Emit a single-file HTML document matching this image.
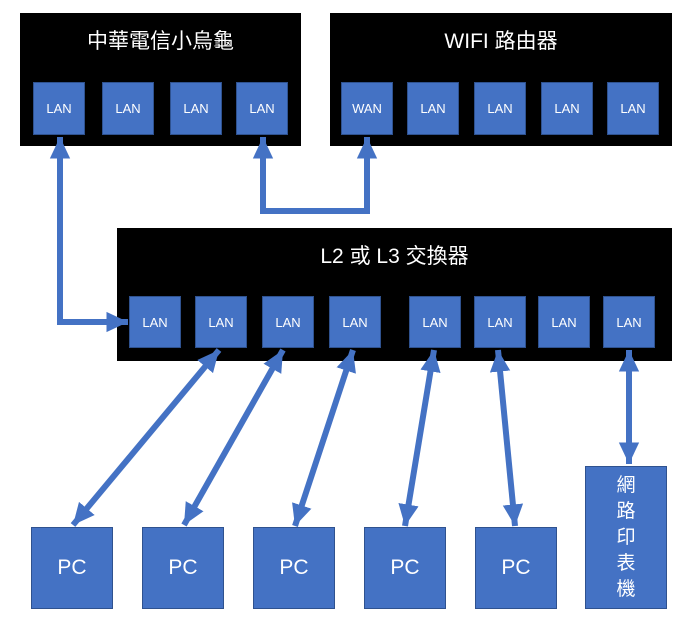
<!DOCTYPE html>
<html><head><meta charset="utf-8"><style>
body{margin:0;background:#fff;width:686px;height:629px;position:relative;overflow:hidden;font-family:"Liberation Sans","Noto Sans CJK TC",sans-serif}
.blk{position:absolute;background:#000}
.t{position:absolute;color:#fff;font-size:21px;text-align:center}
.p{position:absolute;background:#4472c4;border:1px solid #2f528f;box-sizing:border-box;color:#fff;font-size:13px;display:flex;align-items:center;justify-content:center}
.pc{font-size:21px}
svg{position:absolute;left:0;top:0}
</style></head><body>
<div class="blk" style="left:20px;top:13px;width:281px;height:133px"></div>
<div class="t" style="left:20px;top:25px;width:281px">中華電信小烏龜</div>
<div class="blk" style="left:330px;top:13px;width:342px;height:133px"></div>
<div class="t" style="left:330px;top:25px;width:342px">WIFI 路由器</div>
<div class="blk" style="left:117px;top:228px;width:555px;height:133px"></div>
<div class="t" style="left:117px;top:240px;width:555px">L2 或 L3 交換器</div>

<div class="p" style="left:33px;top:82px;width:52px;height:53px">LAN</div>
<div class="p" style="left:102px;top:82px;width:52px;height:53px">LAN</div>
<div class="p" style="left:170px;top:82px;width:52px;height:53px">LAN</div>
<div class="p" style="left:236px;top:82px;width:52px;height:53px">LAN</div>

<div class="p" style="left:341px;top:82px;width:52px;height:53px">WAN</div>
<div class="p" style="left:407px;top:82px;width:52px;height:53px">LAN</div>
<div class="p" style="left:474px;top:82px;width:52px;height:53px">LAN</div>
<div class="p" style="left:541px;top:82px;width:52px;height:53px">LAN</div>
<div class="p" style="left:607px;top:82px;width:52px;height:53px">LAN</div>

<div class="p" style="left:129px;top:296px;width:52px;height:52px">LAN</div>
<div class="p" style="left:195px;top:296px;width:52px;height:52px">LAN</div>
<div class="p" style="left:262px;top:296px;width:52px;height:52px">LAN</div>
<div class="p" style="left:329px;top:296px;width:52px;height:52px">LAN</div>
<div class="p" style="left:409px;top:296px;width:52px;height:52px">LAN</div>
<div class="p" style="left:474px;top:296px;width:52px;height:52px">LAN</div>
<div class="p" style="left:538px;top:296px;width:52px;height:52px">LAN</div>
<div class="p" style="left:603px;top:296px;width:52px;height:52px">LAN</div>

<div class="p pc" style="left:31px;top:527px;width:82px;height:82px">PC</div>
<div class="p pc" style="left:142px;top:527px;width:82px;height:82px">PC</div>
<div class="p pc" style="left:253px;top:527px;width:82px;height:82px">PC</div>
<div class="p pc" style="left:364px;top:527px;width:82px;height:82px">PC</div>
<div class="p pc" style="left:475px;top:527px;width:82px;height:82px">PC</div>
<div class="p" style="left:585px;top:466px;width:82px;height:143px;font-size:19px;line-height:26px;text-align:center">網<br>路<br>印<br>表<br>機</div>

<svg width="686" height="629">
<defs>
<marker id="a" markerWidth="4" markerHeight="4" refX="3.6" refY="2" orient="auto-start-reverse" markerUnits="strokeWidth"><path d="M0,0.3 L3.6,2 L0,3.7Z" fill="#4472c4"/></marker>
</defs>
<g stroke="#4472c4" stroke-width="6" fill="none" marker-start="url(#a)" marker-end="url(#a)">
<polyline points="60,137 60,322 128,322"/>
<polyline points="263,137 263,211 367,211 367,137"/>
<line x1="219" y1="350" x2="73" y2="525"/>
<line x1="283" y1="350" x2="184" y2="525"/>
<line x1="353" y1="350" x2="295" y2="526"/>
<line x1="434" y1="350" x2="405" y2="526"/>
<line x1="498" y1="350" x2="515" y2="526"/>
<line x1="629" y1="350" x2="629" y2="464"/>
</g>
</svg>
</body></html>
